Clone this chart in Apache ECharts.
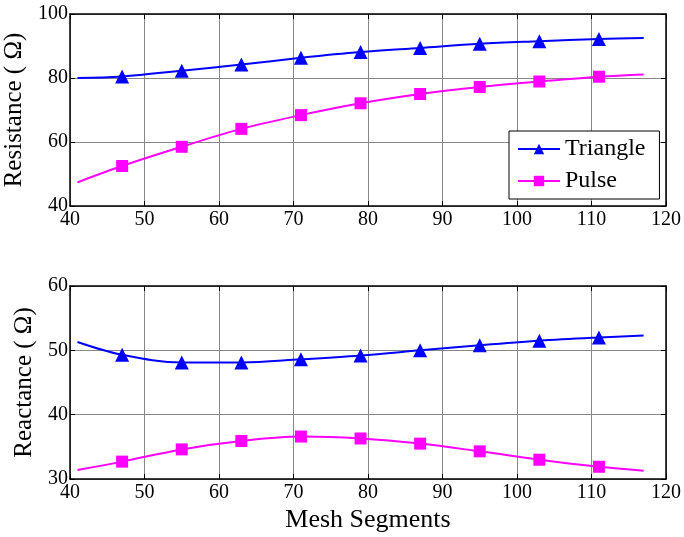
<!DOCTYPE html>
<html><head><meta charset="utf-8">
<script src="https://cdn.jsdelivr.net/npm/echarts@6/dist/echarts.min.js"></script>
<style>html,body{margin:0;padding:0;background:#fff}#c{width:684px;height:537px}</style>
</head><body><div id="c"></div>
<script>
const xs = [41, 47, 55, 63, 71, 79, 87, 95, 103, 111, 117];
const resTriangle = [80.0, 80.5, 82.3, 84.2, 86.3, 88.1, 89.4, 90.7, 91.5, 92.2, 92.5];
const resPulse    = [47.4, 52.5, 58.5, 64.1, 68.4, 72.1, 75.0, 77.2, 78.9, 80.4, 81.1];
const reaTriangle = [51.3, 49.3, 48.1, 48.1, 48.6, 49.2, 50.0, 50.8, 51.5, 52.0, 52.3];
const reaPulse    = [31.4, 32.7, 34.6, 35.9, 36.6, 36.3, 35.5, 34.3, 33.0, 31.9, 31.3];
const xTicks = [40, 50, 60, 70, 80, 90, 100, 110, 120];
const resTicks = [40, 60, 80, 100];
const reaTicks = [30, 40, 50, 60];

const FONT = 'Liberation Serif';
function pts(vals){
  return xs.map((x,i)=>{
    const it = {value:[x, vals[i]]};
    if (i===0 || i===xs.length-1) it.symbol='none';
    return it;
  });
}
function xAx(grid, top){
  return {
    type:'value', gridIndex:grid, min:xTicks[0], max:xTicks[xTicks.length-1], interval:10,
    position: top?'top':'bottom',
    axisLine:{show:true, onZero:false, lineStyle:{color:'#000', width:1.5}},
    axisTick:{show:true, inside:true, length:5, lineStyle:{color:'#000', width:1}},
    axisLabel:{show:!top, color:'#000', fontFamily:FONT, fontSize:20, margin:4},
    splitLine:{show:!top, lineStyle:{color:'#888', width:1}}
  };
}
function yAx(grid, right, ticks, name){
  return {
    type:'value', gridIndex:grid, min:ticks[0], max:ticks[ticks.length-1], interval:ticks[1]-ticks[0],
    position: right?'right':'left',
    name: right?'':name, nameLocation:'middle', nameGap:30,
    nameTextStyle:{color:'#000', fontFamily:FONT, fontSize:25},
    axisLine:{show:true, onZero:false, lineStyle:{color:'#000', width:1.5}},
    axisTick:{show:true, inside:true, length:5, lineStyle:{color:'#000', width:1}},
    axisLabel:{show:!right, color:'#000', fontFamily:FONT, fontSize:20, margin:2},
    splitLine:{show:!right, lineStyle:{color:'#888', width:1}}
  };
}
function ser(name, grid, vals, color, symbol, size){
  return {
    name, type:'line', xAxisIndex:grid*2, yAxisIndex:grid*2, data:pts(vals),
    smooth:0.35, symbol, symbolSize:size, showSymbol:true,
    lineStyle:{color, width:2}, itemStyle:{color},
    z:5, animation:false
  };
}
const chart = echarts.init(document.getElementById('c'));
chart.setOption({
  animation:false,
  backgroundColor:'#fff',
  grid:[
    {left:70, top:14, width:596, height:192, containLabel:false, outerBoundsMode:'none'},
    {left:70, top:286, width:596, height:193, containLabel:false, outerBoundsMode:'none'}
  ],
  xAxis:[xAx(0,false), xAx(0,true), xAx(1,false), xAx(1,true)],
  yAxis:[yAx(0,false,resTicks,'Resistance ( Ω)'), yAx(0,true,resTicks,''),
         yAx(1,false,reaTicks,'Reactance ( Ω)'), yAx(1,true,reaTicks,'')],
  graphic:[{type:'text', x:368, y:520, style:{text:'Mesh Segments', fontFamily:FONT, fontSize:26, fill:'#000', align:'center', verticalAlign:'middle'}}],
  legend:{
    data:['Triangle','Pulse'], orient:'vertical', left:509, top:131,
    backgroundColor:'#fff', borderColor:'#000', borderWidth:1,
    padding:[6,14,6,8], itemGap:8, itemWidth:42, itemHeight:13,
    textStyle:{fontFamily:FONT, fontSize:24, color:'#000'}
  },
  series:[
    ser('Triangle',0,resTriangle,'#0000ff','triangle',14),
    ser('Pulse',0,resPulse,'#ff00ff','rect',12),
    ser('Triangle',1,reaTriangle,'#0000ff','triangle',14),
    ser('Pulse',1,reaPulse,'#ff00ff','rect',12)
  ]
});
</script></body></html>
